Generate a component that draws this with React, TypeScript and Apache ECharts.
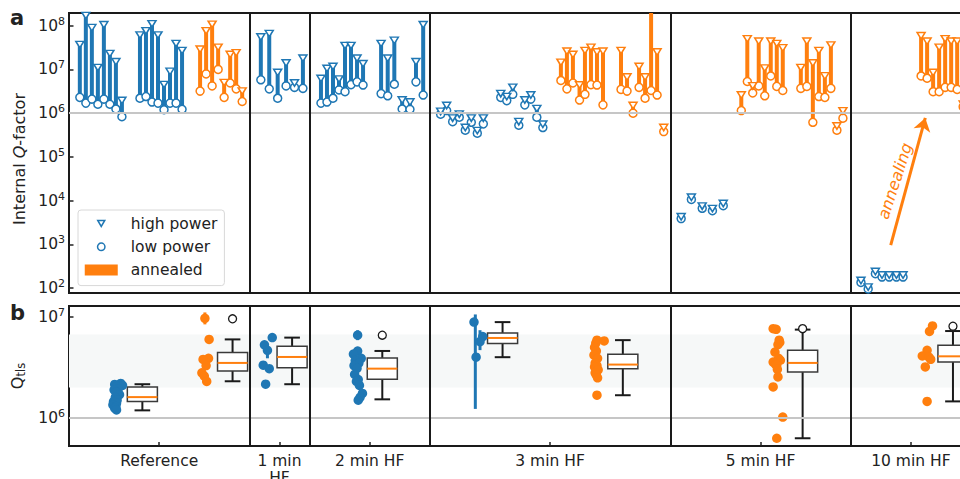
import React, { useEffect, useRef } from 'react';
import * as echarts from 'echarts';

const FONT = 'DejaVu Sans';
const BLUE = '#1f77b4';
const ORANGE = '#ff7f0e';
const INK = '#222222';

// ---------------- panel a: internal Q-factor ----------------
// as-fabricated / treated resonators (blue)
const blueX = [
  1.8, 2.8, 3.8, 4.8, 5.8, 6.8, 7.8, 8.8, 11.8, 12.8, 13.8, 14.8, 15.8, 16.8, 17.8, 18.8,
  31.9, 33.3, 34.7, 36.1, 37.5, 38.9,
  41.9, 42.9, 43.9, 44.9, 45.9, 46.9, 47.9, 48.9, 51.9, 53.0, 54.1, 55.4, 56.7, 57.7, 58.9,
  61.8, 62.8, 63.8, 64.9, 65.9, 66.9, 67.9, 68.9, 71.8, 72.8, 73.8, 74.8, 75.8, 76.8, 77.8, 78.8,
  101.8, 103.5, 105.3, 107.0, 108.8,
  131.7, 132.9, 134.1, 135.2, 136.4, 137.6, 138.7,
];
const blueHigh = [
  3.7e7, 1.7e8, 9e7, 1.1e7, 1.05e8, 2.3e7, 1.5e7, 1.95e6, 6.1e7, 7.6e7, 1.1e8, 6.1e7, 4.5e6, 9e6, 3.9e7, 2.7e7,
  5.5e7, 6.6e7, 8.5e6, 1.4e7, 4.9e6, 1.8e7,
  6.2e6, 1.05e7, 1.17e7, 6e6, 3.5e7, 3.5e7, 1.8e7, 1.35e7, 3.9e7, 1.8e7, 4.6e7, 2e6, 1.8e6, 1.5e7, 1.05e8,
  1.1e6, 1.5e6, 7.7e5, 9.5e5, 4.7e5, 7.7e5, 4e5, 7.7e5, 2.8e6, 2.4e6, 3.9e6, 6.4e5, 2e6, 2.6e6, 1.27e6, 5.6e5,
  4.3e3, 1.2e4, 7.5e3, 6.6e3, 8.6e3,
  150, 106, 240, 200, 200, 200, 200,
];
const blueLow = [
  2.3e6, 1.7e6, 2.1e6, 1.6e6, 2.1e6, 1.6e6, 1.25e6, 8.3e5, 2.2e6, 2.4e6, 1.8e6, 1.7e6, 1.2e6, 1.7e6, 1.7e6, 1.23e6,
  5.8e6, 3.6e6, 2.2e6, 4.2e6, 3.9e6, 3.7e6,
  1.7e6, 1.8e6, 2.2e6, 3.4e6, 3.1e6, 4.5e6, 5.2e6, 4.4e6, 2.8e6, 2.5e6, 4.6e6, 1.25e6, 1.23e6, 5.2e6, 2.6e6,
  9.5e5, 1.15e6, 6.4e5, 8.1e5, 4.1e5, 6.2e5, 3.5e5, 5.7e5, 2.3e6, 1.94e6, 2.7e6, 5.3e5, 1.55e6, 2.1e6, 8.1e5, 4.7e5,
  3.9e3, 1.07e4, 6.7e3, 5.9e3, 7.7e3,
  135, 96, 215, 180, 180, 180, 180,
];
// annealed resonators (orange)
const orangeX = [
  21.8, 22.8, 23.8, 24.8, 25.8, 26.8, 27.8, 28.8,
  81.8, 82.8, 83.8, 84.9, 85.8, 86.8, 87.8, 88.8, 91.8, 92.8, 93.8, 94.8, 95.8, 96.8, 97.8, 98.9,
  111.8, 112.8, 113.7, 114.7, 115.7, 116.7, 117.7, 118.7, 121.7, 122.7, 123.7, 124.7, 125.7, 126.7, 127.7, 128.7,
  141.7, 142.7, 143.7, 144.7, 145.7, 146.7, 147.7, 148.7,
];
const orangeHigh = [
  2.9e7, 7.6e7, 1.07e8, 3.2e7, 5e6, 2.2e7, 2.4e7, 3.2e6,
  1.45e7, 2.6e7, 2.2e7, 4.4e6, 2.7e7, 3.2e7, 2.5e7, 2.6e7, 2.7e7, 6.7e6, 1.5e6, 1.17e7, 6.7e6, 3e8, 2.5e7, 4.7e5,
  2.6e6, 5e7, 4.2e6, 4.4e7, 1.07e7, 4.4e7, 3.9e7, 3.1e7, 1.1e7, 4.4e7, 1.4e7, 2.7e7, 7.1e6, 3.6e7, 5.1e5, 1.13e6,
  5.9e7, 4.4e7, 8.5e6, 3.2e7, 5e7, 4.4e7, 4.4e7, 1.6e6,
];
const orangeLow = [
  3.2e6, 7.9e6, 4.2e6, 1.0e7, 2.3e6, 4.9e6, 3.6e6, 1.85e6,
  5.6e6, 3.6e6, 4.9e6, 2e6, 2.7e6, 4.5e6, 4.4e6, 1.55e6, 3.5e6, 3.2e6, 1.0e6, 3.9e6, 2.2e6, 3.3e6, 2.6e6, 3.8e5,
  1.15e6, 5.3e6, 2.9e6, 4.2e6, 2.5e6, 7.1e6, 4.1e6, 3.3e6, 3.7e6, 4.1e6, 6.2e5, 2.4e6, 2.3e6, 3.7e6, 4.1e5, 7.7e5,
  7.1e6, 6.3e6, 3.1e6, 3.1e6, 3.9e6, 3.9e6, 3.5e6, 1.4e6,
];
const arrowFrom = [136.65, 960];
const arrowTo = [142.4, 7.8e5];

// ---------------- panel b: Q_TLS ----------------
const qBlueX = [
  8.6, 7.6, 8.9, 7.9, 8.2, 7.5, 7.8, 8.4, 7.7, 8.0, 7.4, 7.9, 7.3, 7.8, 7.6, 7.9,
  33.8, 32.5, 33.0, 32.3, 33.3, 32.7,
  48.0, 48.0, 47.3, 48.6, 47.6, 48.2, 47.4, 47.9, 47.5, 48.1, 47.8, 48.3, 48.8, 48.4, 48.1,
  67.35, 68.8, 68.35, 67.7,
];
const qBlueV = [
  2.2e6, 2.15e6, 2.1e6, 2.05e6, 1.95e6, 1.9e6, 1.8e6, 1.7e6, 1.6e6, 1.5e6, 1.45e6, 1.4e6, 1.35e6, 1.3e6, 1.25e6, 1.2e6,
  6.25e6, 5.3e6, 4.68e6, 3.33e6, 3.08e6, 2.16e6,
  6.6e6, 4.6e6, 4.3e6, 3.9e6, 3.7e6, 3.5e6, 3.3e6, 3.1e6, 2.7e6, 2.4e6, 2.3e6, 2.1e6, 1.75e6, 1.6e6, 1.5e6,
  8.9e6, 6.4e6, 5.7e6, 4.0e6,
];
const qOrangeX = [
  22.6, 23.3, 23.2, 22.3, 22.8, 22.1, 22.5, 22.9,
  87.8, 89.0, 87.6, 87.4, 87.7, 87.3, 87.9, 87.5, 87.8, 87.4, 87.6, 88.0, 87.5, 87.7, 87.9, 87.8,
  117.1, 117.6, 118.1, 118.2, 117.9, 117.4, 118.0, 118.3, 117.1, 117.5, 117.7, 117.8, 117.9, 117.1, 118.7, 117.7,
  143.6, 143.1, 142.7, 141.9, 143.0, 143.3, 142.4, 142.7,
];
const qOrangeV = [
  9.7e6, 6.0e6, 3.9e6, 3.8e6, 3.3e6, 2.8e6, 2.6e6, 2.3e6,
  5.9e6, 5.8e6, 5.5e6, 5.0e6, 4.6e6, 4.2e6, 3.9e6, 3.5e6, 3.3e6, 3.2e6, 3.1e6, 3.0e6, 2.8e6, 2.65e6, 2.5e6, 1.68e6,
  7.67e6, 7.55e6, 5.9e6, 5.6e6, 5.33e6, 4.5e6, 3.9e6, 3.73e6, 3.58e6, 3.4e6, 3.33e6, 3.03e6, 2.55e6, 2.03e6, 1.02e6, 6.3e5,
  8.15e6, 7.2e6, 4.68e6, 4.11e6, 4.0e6, 3.81e6, 3.2e6, 1.46e6,
];
const errBlueX = [33.0, 48.0, 67.57, 68.35];
const errBlueLo = [3.9e6, 5.9e6, 1.23e6, 4.7e6];
const errBlueHi = [5.4e6, 7.4e6, 1.06e7, 7.4e6];
const errOrangeX = [22.6, 87.7];
const errOrangeLo = [8.45e6, 2.4e6];
const errOrangeHi = [1.11e7, 2.9e6];

const boxX = [12.2, 27.2, 37.1, 52.1, 72.1, 92.1, 122.0, 147.0];
const boxMin = [1.19e6, 2.31e6, 2.16e6, 1.53e6, 4.0e6, 1.68e6, 6.3e5, 1.46e6];
const boxQ1 = [1.46e6, 2.92e6, 3.15e6, 2.42e6, 5.45e6, 3.08e6, 2.85e6, 3.58e6];
const boxMed = [1.61e6, 3.51e6, 4.02e6, 3.08e6, 6.2e6, 3.38e6, 3.51e6, 4.08e6];
const boxQ3 = [2.03e6, 4.44e6, 5.13e6, 3.93e6, 6.95e6, 4.28e6, 4.68e6, 5.25e6];
const boxMax = [2.16e6, 6.0e6, 6.25e6, 4.61e6, 8.9e6, 5.9e6, 7.5e6, 7.26e6];
const outlierX = [27.2, 52.1, 122.0, 147.0];
const outlierV = [9.6e6, 6.6e6, 7.67e6, 8.1e6];

const tlsBand = [2e6, 6.7e6];

// ---------------- axes ----------------
const groupLabels = ['Reference', '1 min\nHF', '2 min HF', '3 min HF', '5 min HF', '10 min HF'];
const groupCenters = [15, 35, 50, 80, 115, 140];
const groupBounds = [30, 40, 60, 100, 130];
const topRange = [77.6, 1.95e8];
const botRange = [5.28e5, 1.285e7];
const topMajor = [1e2, 1e3, 1e4, 1e5, 1e6, 1e7, 1e8];
const botMajor = [1e6, 1e7];

const minorTicks = (lo: number, hi: number, range: number[]) => {
  const out: number[] = [];
  for (let e = lo; e <= hi; e++) for (let m = 2; m <= 9; m++) out.push(m * Math.pow(10, e));
  return out.filter((v) => v >= range[0] && v <= range[1]);
};
const topMinor = minorTicks(1, 8, topRange);
const botMinor = minorTicks(5, 7, botRange);

const TRI = 'path://M0,0L10,0L5,8Z';

const supFmt = (v: number) => `10{sup|${Math.round(Math.log10(v))}}`;
const supRich = { sup: { fontSize: 11, padding: [0, 0, 9, 0], fontFamily: FONT, color: INK } };

function majorAxis(grid: number, range: number[], major: number[], extra: any = {}) {
  return {
    gridIndex: grid,
    type: 'log',
    logBase: 10,
    min: range[0],
    max: range[1],
    axisLine: { show: false },
    splitLine: { show: false },
    minorTick: { show: false },
    axisTick: { show: true, inside: true, length: 4.5, lineStyle: { color: INK, width: 1.5 }, customValues: major },
    axisLabel: {
      show: true,
      customValues: major,
      formatter: supFmt,
      fontSize: 15.5,
      fontFamily: FONT,
      color: INK,
      margin: 4,
      rich: supRich,
    },
    ...extra,
  };
}
function minorAxis(grid: number, range: number[], minor: number[]) {
  return {
    gridIndex: grid,
    type: 'log',
    logBase: 10,
    min: range[0],
    max: range[1],
    axisLine: { show: false },
    splitLine: { show: false },
    axisLabel: { show: false },
    axisTick: { show: true, inside: true, length: 2.5, lineStyle: { color: INK, width: 1 }, customValues: minor },
  };
}

const barRender = (color: string, w: number) => (params: any, api: any) => {
  const x = api.value(0);
  const pLo = api.coord([x, api.value(1)]);
  const pHi = api.coord([x, api.value(2)]);
  const cs = params.coordSys;
  const top = Math.max(Math.min(pHi[1], pLo[1]), cs.y);
  const bottom = Math.min(Math.max(pHi[1], pLo[1]), cs.y + cs.height);
  return {
    type: 'rect',
    shape: { x: pLo[0] - w / 2, y: top, width: w, height: Math.max(0, bottom - top) },
    style: { fill: color },
  };
};

const boxRender = (params: any, api: any) => {
  const x = api.value(0);
  const [cx, yMin] = api.coord([x, api.value(1)]);
  const yQ1 = api.coord([x, api.value(2)])[1];
  const yMed = api.coord([x, api.value(3)])[1];
  const yQ3 = api.coord([x, api.value(4)])[1];
  const yMax = api.coord([x, api.value(5)])[1];
  const hb = api.coord([x + 2.5, api.value(3)])[0] - cx;
  const hc = api.coord([x + 1.3, api.value(3)])[0] - cx;
  const wl = { stroke: '#1a1a1a', lineWidth: 2 };
  return {
    type: 'group',
    children: [
      { type: 'line', shape: { x1: cx, y1: yMin, x2: cx, y2: yQ1 }, style: wl },
      { type: 'line', shape: { x1: cx, y1: yQ3, x2: cx, y2: yMax }, style: wl },
      { type: 'line', shape: { x1: cx - hc, y1: yMin, x2: cx + hc, y2: yMin }, style: wl },
      { type: 'line', shape: { x1: cx - hc, y1: yMax, x2: cx + hc, y2: yMax }, style: wl },
      { type: 'rect', shape: { x: cx - hb, y: yQ3, width: 2 * hb, height: yQ1 - yQ3 }, style: { fill: '#ffffff', stroke: '#3a3a3a', lineWidth: 1.5 } },
      { type: 'line', shape: { x1: cx - hb, y1: yMed, x2: cx + hb, y2: yMed }, style: { stroke: ORANGE, lineWidth: 2 } },
    ],
  };
};

const sepLines = groupBounds.map((v) => ({ xAxis: v, lineStyle: { color: '#1a1a1a', width: 2, type: 'solid' } }));
const oneLine = { yAxis: 1e6, lineStyle: { color: '#c6c6c6', width: 2, type: 'solid' } };

const markerStyle = (c: string) => ({ color: '#ffffff', borderColor: c, borderWidth: 1.5, opacity: 1 });

const option: any = {
  animation: false,
  backgroundColor: '#ffffff',
  textStyle: { fontFamily: FONT },
  grid: [
    { left: 69, top: 13, width: 902, height: 280, show: true, borderColor: '#1a1a1a', borderWidth: 2, backgroundColor: 'transparent', containLabel: false, outerBoundsMode: 'none' },
    { left: 69, top: 306, width: 902, height: 140, show: true, borderColor: '#1a1a1a', borderWidth: 2, backgroundColor: 'transparent', containLabel: false, outerBoundsMode: 'none' },
  ],
  xAxis: [
    { gridIndex: 0, type: 'value', min: 0, max: 150, axisLine: { show: false }, axisTick: { show: false }, axisLabel: { show: false }, splitLine: { show: false } },
    {
      gridIndex: 1, type: 'value', min: 0, max: 150,
      axisLine: { show: false }, splitLine: { show: false },
      axisTick: { show: true, inside: true, length: 4, lineStyle: { color: INK, width: 1.5 }, customValues: groupCenters },
      axisLabel: {
        show: true, customValues: groupCenters, fontSize: 15.5, fontFamily: FONT, color: INK, margin: 6, lineHeight: 17,
        formatter: (v: number) => {
          const i = groupCenters.findIndex((c) => Math.abs(c - v) < 1e-6);
          return i >= 0 ? groupLabels[i] : '';
        },
      },
    },
  ],
  yAxis: [
    majorAxis(0, topRange, topMajor, {
      name: 'Internal {q|Q}-factor', nameLocation: 'middle', nameGap: 34,
      nameTextStyle: { fontSize: 16, fontFamily: FONT, color: INK, padding: [0, 12, 0, 0], rich: { q: { fontSize: 16, fontStyle: 'italic', fontFamily: FONT, color: INK } } },
    }),
    minorAxis(0, topRange, topMinor),
    majorAxis(1, botRange, botMajor, {
      name: 'Q{s|tls}', nameLocation: 'middle', nameGap: 34,
      nameTextStyle: { fontSize: 16, fontFamily: FONT, color: INK, rich: { s: { fontSize: 11.5, fontFamily: FONT, color: INK, padding: [8, 0, 0, 0] } } },
    }),
    minorAxis(1, botRange, botMinor),
  ],
  legend: {
    orient: 'vertical', left: 78, top: 210, padding: [5, 7, 7, 6], itemWidth: 33, itemHeight: 11, itemGap: 6.3,
    backgroundColor: '#ffffff', borderColor: '#d8d8d8', borderWidth: 1, borderRadius: 3, selectedMode: false,
    textStyle: { fontSize: 15.5, fontFamily: FONT, color: INK, lineHeight: 17, padding: [0, 0, 0, 8] },
    data: [
      { name: 'high power', icon: 'path://M0,0M33,11M13,2.5L20,2.5L16.5,8.5Z', itemStyle: { color: '#ffffff', borderColor: BLUE, borderWidth: 1.5 } },
      { name: 'low power', icon: 'path://M0,0M33,11M12.8,5.5A3.7,3.7 0 1 1 20.2,5.5A3.7,3.7 0 1 1 12.8,5.5Z', itemStyle: { color: '#ffffff', borderColor: BLUE, borderWidth: 1.5 } },
      { name: 'annealed', icon: 'rect', itemStyle: { color: ORANGE, borderWidth: 0 } },
    ],
  },
  graphic: [
    { type: 'text', left: 10, top: 7, style: { text: 'a', fontSize: 21, fontWeight: 'bold', fontFamily: FONT, fill: INK } },
    { type: 'text', left: 10, top: 302, style: { text: 'b', fontSize: 21, fontWeight: 'bold', fontFamily: FONT, fill: INK } },
    {
      type: 'text', x: 895, y: 181, rotation: (72 * Math.PI) / 180, z: 10,
      style: { text: 'annealing', fontSize: 16, fontStyle: 'italic', fontFamily: FONT, fill: ORANGE, align: 'center', verticalAlign: 'middle' },
    },
  ],
  series: [
    // panel a reference lines
    { type: 'line', xAxisIndex: 0, yAxisIndex: 0, data: [], z: 1, silent: true,
      markLine: { silent: true, symbol: ['none', 'none'], label: { show: false }, emphasis: { disabled: true }, data: [oneLine, ...sepLines] } },
    { type: 'custom', name: 'blue bars', xAxisIndex: 0, yAxisIndex: 0, z: 2, silent: true, renderItem: barRender(BLUE, 4), encode: { x: 0, y: 1 },
      data: blueX.map((x, i) => [x, blueLow[i], blueHigh[i]]) },
    { type: 'custom', name: 'annealed', xAxisIndex: 0, yAxisIndex: 0, z: 2, silent: true, renderItem: barRender(ORANGE, 4), encode: { x: 0, y: 1 },
      itemStyle: { color: ORANGE },
      data: orangeX.map((x, i) => [x, orangeLow[i], orangeHigh[i]]) },
    { type: 'scatter', name: 'low power', xAxisIndex: 0, yAxisIndex: 0, z: 3, symbol: 'circle', symbolSize: 8, itemStyle: markerStyle(BLUE),
      data: blueX.map((x, i) => [x, blueLow[i]]) },
    { type: 'scatter', name: 'annealed low', xAxisIndex: 0, yAxisIndex: 0, z: 3, symbol: 'circle', symbolSize: 8, itemStyle: markerStyle(ORANGE),
      data: orangeX.map((x, i) => [x, orangeLow[i]]) },
    { type: 'scatter', name: 'high power', xAxisIndex: 0, yAxisIndex: 0, z: 4, symbol: TRI, symbolSize: [8, 6.5], itemStyle: markerStyle(BLUE),
      data: blueX.map((x, i) => [x, blueHigh[i]]) },
    { type: 'scatter', name: 'annealed high', xAxisIndex: 0, yAxisIndex: 0, z: 4, symbol: TRI, symbolSize: [8, 6.5], itemStyle: markerStyle(ORANGE),
      data: orangeX.map((x, i) => [x, orangeHigh[i]]),
      markLine: { silent: true, symbol: ['none', 'arrow'], symbolSize: 13, label: { show: false }, emphasis: { disabled: true },
        lineStyle: { color: ORANGE, width: 3, type: 'solid' },
        data: [[{ coord: arrowFrom }, { coord: arrowTo }]] } },

    // panel b
    { type: 'line', xAxisIndex: 1, yAxisIndex: 2, data: [], z: 0, silent: true,
      markArea: { silent: true, itemStyle: { color: '#f6f8f8' }, label: { show: false }, data: [[{ yAxis: tlsBand[0] }, { yAxis: tlsBand[1] }]] } },
    { type: 'line', xAxisIndex: 1, yAxisIndex: 2, data: [], z: 1, silent: true,
      markLine: { silent: true, symbol: ['none', 'none'], label: { show: false }, emphasis: { disabled: true }, data: [oneLine, ...sepLines] } },
    { type: 'custom', name: 'blue err', xAxisIndex: 1, yAxisIndex: 2, z: 2, silent: true, renderItem: barRender(BLUE, 3), encode: { x: 0, y: 1 },
      data: errBlueX.map((x, i) => [x, errBlueLo[i], errBlueHi[i]]) },
    { type: 'custom', name: 'orange err', xAxisIndex: 1, yAxisIndex: 2, z: 2, silent: true, renderItem: barRender(ORANGE, 3), encode: { x: 0, y: 1 },
      data: errOrangeX.map((x, i) => [x, errOrangeLo[i], errOrangeHi[i]]) },
    { type: 'scatter', name: 'Qtls blue', xAxisIndex: 1, yAxisIndex: 2, z: 3, symbol: 'circle', symbolSize: 9.5, itemStyle: { color: BLUE, opacity: 1 },
      data: qBlueX.map((x, i) => [x, qBlueV[i]]) },
    { type: 'scatter', name: 'Qtls orange', xAxisIndex: 1, yAxisIndex: 2, z: 3, symbol: 'circle', symbolSize: 9.5, itemStyle: { color: ORANGE, opacity: 1 },
      data: qOrangeX.map((x, i) => [x, qOrangeV[i]]) },
    { type: 'custom', name: 'boxes', xAxisIndex: 1, yAxisIndex: 2, z: 3, silent: true, renderItem: boxRender, encode: { x: 0, y: [1, 2, 3, 4, 5] },
      data: boxX.map((x, i) => [x, boxMin[i], boxQ1[i], boxMed[i], boxQ3[i], boxMax[i]]) },
    { type: 'scatter', name: 'outliers', xAxisIndex: 1, yAxisIndex: 2, z: 4, symbol: 'circle', symbolSize: 8,
      itemStyle: { color: '#ffffff', borderColor: '#1a1a1a', borderWidth: 1.3, opacity: 1 },
      data: outlierX.map((x, i) => [x, outlierV[i]]) },
  ],
};

export default function App() {
  const ref = useRef<HTMLDivElement>(null);
  useEffect(() => {
    const chart = echarts.init(ref.current as HTMLDivElement, null, { renderer: 'svg' });
    chart.setOption(option);
    return () => chart.dispose();
  }, []);
  return (
    <div
      ref={ref}
      style={{ position: 'fixed', left: 0, top: 0, width: 960, height: 479, background: '#ffffff', overflow: 'hidden' }}
    />
  );
}
